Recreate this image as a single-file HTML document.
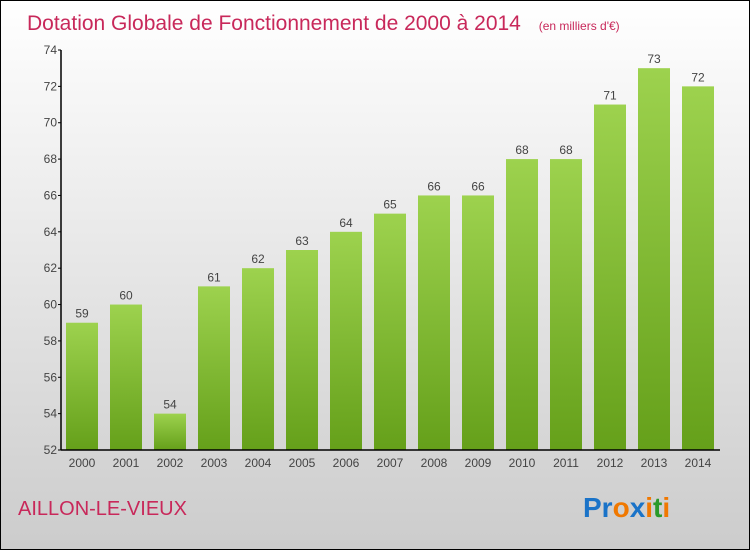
<!DOCTYPE html>
<html><head><meta charset="utf-8"><style>
html,body{margin:0;padding:0}
body{width:750px;height:550px;overflow:hidden;font-family:"Liberation Sans",sans-serif}
#wrap{position:relative;width:748px;height:548px;border:1px solid #000;background:linear-gradient(#fff,#ccc)}
</style></head><body>
<div id="wrap">
<svg id="svg" width="748" height="548">
<defs>
<linearGradient id="bg" x1="0" y1="0" x2="0" y2="1"><stop offset="0" stop-color="#9dd24e"/><stop offset="1" stop-color="#65a01a"/></linearGradient>
</defs>
<text x="26" y="29" font-size="21" fill="#c8285a">Dotation Globale de Fonctionnement de 2000 à 2014 <tspan font-size="12" dx="12">(en milliers d'€)</tspan></text>
<text x="17" y="514" font-size="20" fill="#c8285a">AILLON-LE-VIEUX</text>
<text x="582" y="516" font-size="28" font-weight="bold" font-family="Liberation Sans"><tspan fill="#1a73c8">Pr</tspan><tspan fill="#f07800">o</tspan><tspan fill="#1a73c8">x</tspan><tspan fill="#f07800">i</tspan><tspan fill="#2a9a2a">t</tspan><tspan fill="#f07800">i</tspan></text>
<g id="g"></g>
</svg></div>
<script>
const years=["2000","2001","2002","2003","2004","2005","2006","2007","2008","2009","2010","2011","2012","2013","2014"];
const values=[59,60,54,61,62,63,64,65,66,66,68,68,71,73,72];
const yTicks=[52,54,56,58,60,62,64,66,68,70,72,74];
const NS="http://www.w3.org/2000/svg";
const g=document.getElementById('g');
const ymin=52,ymax=74,y0=449,y1=49,x0=60,xEnd=719;
const yS=v=>y0-(v-ymin)/(ymax-ymin)*(y0-y1);
const xS=i=>81+i*44;
function mk(t,a){const e=document.createElementNS(NS,t);for(const k in a)e.setAttribute(k,a[k]);g.appendChild(e);return e;}
years.forEach((yr,i)=>{
 const r=mk('rect',{x:xS(i)-16,y:yS(values[i]),width:32,height:y0-yS(values[i]),fill:'url(#bg)'});
 
 
 const l=mk('text',{x:xS(i),y:yS(values[i])-5,'font-size':12,'text-anchor':'middle',fill:'#444'});
 l.textContent=values[i];
 
 
 const t=mk('text',{x:xS(i),y:466,'font-size':12,'text-anchor':'middle',fill:'#444'});
 t.textContent=yr;
 
 
});
yTicks.forEach(v=>{
 const tk=mk('line',{x1:x0-3,x2:x0,y1:yS(v),y2:yS(v),stroke:'#000'});
 
 
 const t=mk('text',{x:x0-4,y:yS(v)+4,'font-size':12,'text-anchor':'end',fill:'#444'});
 t.textContent=v;
 
 
});
const ya=mk('line',{x1:x0,x2:x0,y1:y1,y2:y0,stroke:'#000','stroke-width':1.5});


const xa=mk('line',{x1:x0,x2:xEnd,y1:y0,y2:y0,stroke:'#000','stroke-width':1.5});


</script>
</body></html>
